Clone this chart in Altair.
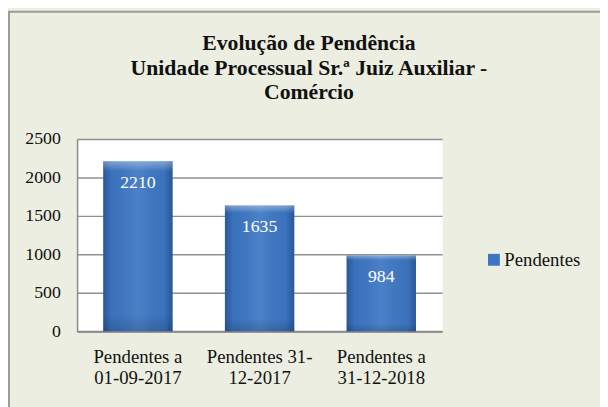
import altair as alt
import pandas as pd

categories = ["Pendentes a 01-09-2017", "Pendentes 31-12-2017", "Pendentes a 31-12-2018"]
label_line1 = ["Pendentes a", "Pendentes 31-", "Pendentes a"]
label_line2 = ["01-09-2017", "12-2017", "31-12-2018"]
values = [2210, 1635, 984]
series_name = "Pendentes"
y_ticks = [0, 500, 1000, 1500, 2000, 2500]
title_lines = ["Evolução de Pendência", "Unidade Processual Sr.ª Juiz Auxiliar -", "Comércio"]

df = pd.DataFrame({"categoria": categories, "valor": values, "serie": [series_name] * len(categories)})

expr = ""
for c, a, b in zip(categories, label_line1, label_line2):
    expr += f"datum.label == '{c}' ? ['{a}', '{b}'] : "
expr += "datum.label"

SERIF = "Liberation Serif"
PW, PH = 370, 195

base = alt.Chart(df).encode(
    x=alt.X(
        "categoria:N",
        sort=categories,
        scale=alt.Scale(paddingInner=0.43, paddingOuter=0.215),
        axis=alt.Axis(
            title=None, labelAngle=0, ticks=False, labelExpr=expr,
            labelFont=SERIF, labelFontSize=19, labelColor="#111111",
            labelLineHeight=21, labelPadding=17,
            domainColor="#8a8a8a", domainWidth=2, grid=False,
        ),
    ),
    y=alt.Y(
        "valor:Q",
        scale=alt.Scale(domain=[0, 2500], nice=False),
        axis=alt.Axis(
            title=None, values=y_ticks, ticks=False, format="d",
            labelFont=SERIF, labelFontSize=18, labelColor="#111111", labelPadding=17,
            domainColor="#8a8a8a", domainWidth=1.5,
            grid=True, gridColor="#909090", gridWidth=1.5,
        ),
    ),
)

bars = base.mark_bar().encode(
    color=alt.Color(
        "serie:N",
        scale=alt.Scale(range=["#3c76c2"]),
        legend=alt.Legend(
            title=None, orient="none", legendX=413, legendY=113,
            symbolType="square", symbolSize=144, symbolStrokeWidth=0,
            labelFont=SERIF, labelFontSize=19, labelColor="#111111", labelOffset=1,
        ),
    )
)

shade_h = base.mark_bar(
    color=alt.LinearGradient(
        gradient="linear", x1=0, x2=1, y1=0, y2=0,
        stops=[
            alt.GradientStop(color="rgba(10,30,70,0.35)", offset=0),
            alt.GradientStop(color="rgba(10,30,70,0.05)", offset=0.12),
            alt.GradientStop(color="rgba(255,255,255,0.08)", offset=0.5),
            alt.GradientStop(color="rgba(10,30,70,0.05)", offset=0.88),
            alt.GradientStop(color="rgba(10,30,70,0.35)", offset=1),
        ],
    )
)

shade_v = base.mark_bar(
    color=alt.LinearGradient(
        gradient="linear", x1=0, x2=0, y1=0, y2=1,
        stops=[
            alt.GradientStop(color="rgba(255,255,255,0.35)", offset=0),
            alt.GradientStop(color="rgba(255,255,255,0.0)", offset=0.06),
            alt.GradientStop(color="rgba(0,0,0,0.0)", offset=0.9),
            alt.GradientStop(color="rgba(0,0,0,0.15)", offset=1),
        ],
    )
)

labels = base.mark_text(
    baseline="middle", dy=22, color="white", font=SERIF, fontSize=18
).encode(text="valor:Q")

frame = alt.Chart(alt.Data(values=[{}])).mark_rect(
    filled=False, stroke="#9c9c9c", strokeWidth=2
).encode(
    x=alt.value(-69), x2=alt.value(560), y=alt.value(-129), y2=alt.value(320)
)

title = alt.Chart(alt.Data(values=[{}])).mark_text(
    text=title_lines, font=SERIF, fontSize=22, fontWeight="bold", color="#111111",
    align="center", baseline="middle", lineHeight=25,
).encode(x=alt.value(235), y=alt.value(-97))

chart = alt.layer(frame, bars, shade_h, shade_v, labels, title).properties(
    width=PW, height=PH,
    autosize=alt.AutoSizeParams(type="none"),
    padding={"left": 70, "top": 130, "right": 160, "bottom": 74},
    background="#ebeee0",
).configure_view(
    fill="white", strokeOpacity=0
).configure_legend(
    labelFont=SERIF, labelFontSize=19, labelColor="#111111"
)

chart.save("out.html", embed_options={"renderer": "svg", "actions": False})
